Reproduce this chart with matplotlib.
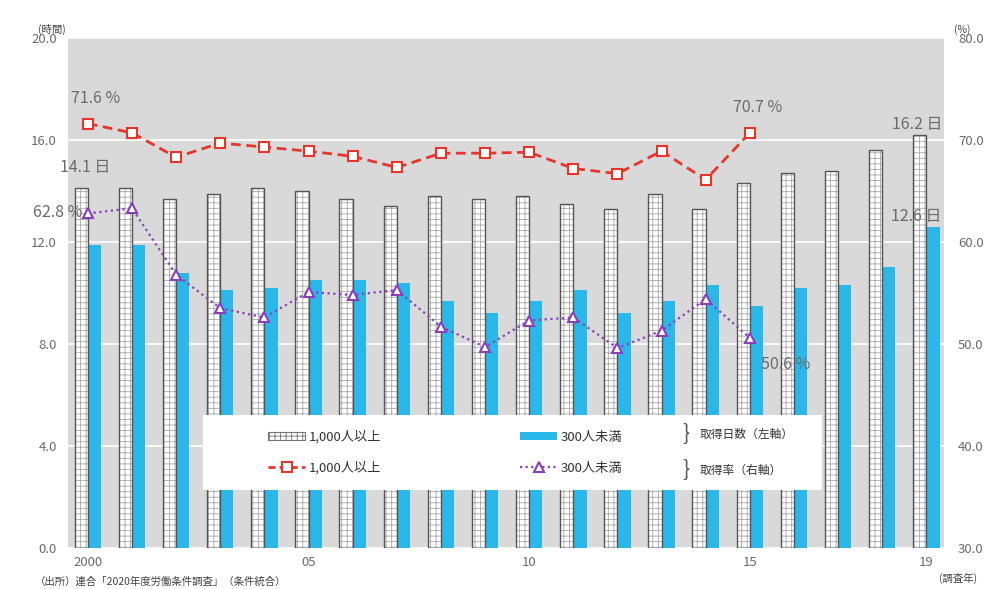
import matplotlib

matplotlib.use("Agg")
import matplotlib.pyplot as plt
from matplotlib.lines import Line2D
from matplotlib.patches import Patch, Rectangle

plt.rcParams["font.family"] = ["Noto Sans CJK JP", "DejaVu Sans"]
plt.rcParams["hatch.color"] = "#a8a8a8"
plt.rcParams["hatch.linewidth"] = 0.6

years = list(range(2000, 2020))
tick_years = [2000, 2005, 2010, 2015, 2019]
tick_labels = ["2000", "05", "10", "15", "19"]

# 取得日数 (left axis)
days_large = [14.1, 14.1, 13.7, 13.9, 14.1, 14.0, 13.7, 13.4, 13.8, 13.7,
              13.8, 13.5, 13.3, 13.9, 13.3, 14.3, 14.7, 14.8, 15.6, 16.2]
days_small = [11.9, 11.9, 10.8, 10.1, 10.2, 10.5, 10.5, 10.4, 9.7, 9.2,
              9.7, 10.1, 9.2, 9.7, 10.3, 9.5, 10.2, 10.3, 11.0, 12.6]

# 取得率 (right axis), 2000-2015
rate_years = list(range(2000, 2016))
rate_large = [71.6, 70.7, 68.3, 69.7, 69.3, 68.9, 68.4, 67.3, 68.7, 68.7,
              68.8, 67.2, 66.7, 68.9, 66.1, 70.7]
rate_small = [62.8, 63.3, 56.8, 53.5, 52.6, 55.1, 54.8, 55.3, 51.7, 49.7,
              52.3, 52.6, 49.6, 51.3, 54.4, 50.6]

BLUE = "#2ab7ea"
RED = "#e8352c"
PURPLE = "#8a3fb8"
GRAY_TXT = "#6b6b6b"

fig = plt.figure(figsize=(10, 5.89), dpi=100)
ax = fig.add_axes([0.068, 0.0696, 0.876, 0.866])
ax.set_facecolor("#d9d9d9")
ax2 = ax.twinx()

x = [y - 2000 for y in years]
w = 0.3
ax.bar([i - w / 2 for i in x], days_large, width=w, color="white",
       hatch="+++", edgecolor="#a8a8a8", linewidth=0, zorder=2)
ax.bar([i - w / 2 for i in x], days_large, width=w, fill=False,
       edgecolor="#555555", linewidth=1.0, zorder=2.1)
ax.bar([i + w / 2 for i in x], days_small, width=w, color=BLUE,
       linewidth=0, zorder=2)

ax.set_ylim(0, 20)
ax.set_yticks([0, 4, 8, 12, 16, 20])
ax.set_yticklabels([f"{v:.1f}" for v in [0, 4, 8, 12, 16, 20]])
ax.yaxis.grid(True, color="white", linewidth=1.2, zorder=1)
ax.set_axisbelow(True)
ax.set_xlim(-0.45, 19.4)
ax.set_xticks([t - 2000 for t in tick_years])
ax.set_xticklabels(tick_labels)

rx = [y - 2000 for y in rate_years]
ax2.plot(rx, rate_large, color=RED, linestyle=(0, (3.5, 2)), linewidth=2.0,
         marker="s", markersize=7, markerfacecolor="white",
         markeredgecolor=RED, markeredgewidth=1.5, zorder=4)
ax2.plot(rx, rate_small, color=PURPLE, linestyle=(0, (1, 1.6)), linewidth=1.6,
         marker="^", markersize=7, markerfacecolor="white",
         markeredgecolor=PURPLE, markeredgewidth=1.5, zorder=4)
ax2.set_ylim(30, 80)
ax2.set_yticks([30, 40, 50, 60, 70, 80])
ax2.set_yticklabels([f"{v:.1f}" for v in [30, 40, 50, 60, 70, 80]])

for a in (ax, ax2):
    for s in a.spines.values():
        s.set_visible(False)
    a.tick_params(length=0, labelsize=9.5, labelcolor=GRAY_TXT)
ax.tick_params(axis="y", pad=8)
ax2.tick_params(axis="y", pad=10)
ax.tick_params(axis="x", pad=6)

# value annotations
tk = dict(fontsize=11.5, color=GRAY_TXT)
ax2.annotate(f"{rate_large[0]} %", (rx[0], rate_large[0]), xytext=(-12, 12),
             textcoords="offset points", ha="left", va="bottom", **tk)
ax2.annotate(f"{rate_large[-1]} %", (rx[-1], rate_large[-1]), xytext=(-12, 12),
             textcoords="offset points", ha="left", va="bottom", **tk)
ax2.annotate(f"{rate_small[0]} %", (rx[0], rate_small[0]), xytext=(-4, 1),
             textcoords="offset points", ha="right", va="center", **tk)
ax2.annotate(f"{rate_small[-1]} %", (rx[-1], rate_small[-1]), xytext=(8, -13),
             textcoords="offset points", ha="left", va="top", **tk)
ax.annotate(f"{days_large[0]} 日", (x[0] - w / 2, days_large[0]), xytext=(-15, 9),
            textcoords="offset points", ha="left", va="bottom", **tk)
ax.annotate(f"{days_large[-1]} 日", (x[-1] - w / 2, days_large[-1]), xytext=(-20, 1),
            textcoords="offset points", ha="left", va="bottom", **tk)
ax.annotate(f"{days_small[-1]} 日", (x[-1] + w / 2, days_small[-1]), xytext=(-30, 1),
            textcoords="offset points", ha="left", va="bottom", **tk)

# legend box
ax2.add_patch(Rectangle((0.154, 0.114), 0.707, 0.147, transform=ax2.transAxes,
                        facecolor="white", edgecolor="none", zorder=10))
handles = [
    Patch(facecolor="white", hatch="+++", edgecolor="#777777", linewidth=0.8,
          label="1,000人以上"),
    Line2D([0], [0], color=RED, linestyle=(0, (2.5, 1.5)), linewidth=2.0,
           marker="s", markersize=7, markerfacecolor="white",
           markeredgecolor=RED, markeredgewidth=1.5, label="1,000人以上"),
    Patch(facecolor=BLUE, edgecolor="none", label="300人未満"),
    Line2D([0], [0], color=PURPLE, linestyle=(0, (1, 1.5)), linewidth=1.6,
           marker="^", markersize=7, markerfacecolor="white",
           markeredgecolor=PURPLE, markeredgewidth=1.5, label="300人未満"),
]
leg = ax2.legend(handles=handles, ncol=2, loc="center left",
                 bbox_to_anchor=(0.215, 0.187), frameon=False, fontsize=9.5,
                 handlelength=2.8, handleheight=0.6, columnspacing=10.5,
                 labelspacing=1.35, handletextpad=0.3)
leg.set_zorder(11)
for tx in leg.get_texts():
    tx.set_color("#333333")

ax2.text(0.701, 0.223, "}", transform=ax2.transAxes, fontsize=15,
         ha="left", va="center", color="#555555", zorder=12)
ax2.text(0.721, 0.223, "取得日数（左軸）", transform=ax2.transAxes, fontsize=8.5,
         ha="left", va="center", color="#333333", zorder=12)
ax2.text(0.701, 0.152, "}", transform=ax2.transAxes, fontsize=15,
         ha="left", va="center", color="#555555", zorder=12)
ax2.text(0.721, 0.152, "取得率（右軸）", transform=ax2.transAxes, fontsize=8.5,
         ha="left", va="center", color="#333333", zorder=12)

# axis units and notes
fig.text(0.052, 0.945, "(時間)", fontsize=7.5, color="#444444", ha="center")
fig.text(0.962, 0.945, "(%)", fontsize=7.5, color="#444444", ha="center")
fig.text(0.958, 0.012, "(調査年)", fontsize=7.5, color="#444444", ha="center")
fig.text(0.035, 0.003, "（出所）連合「2020年度労働条件調査」（条件統合）", fontsize=7.5,
         color="#444444", ha="left", va="bottom")

fig.savefig("out.png", dpi=100)
